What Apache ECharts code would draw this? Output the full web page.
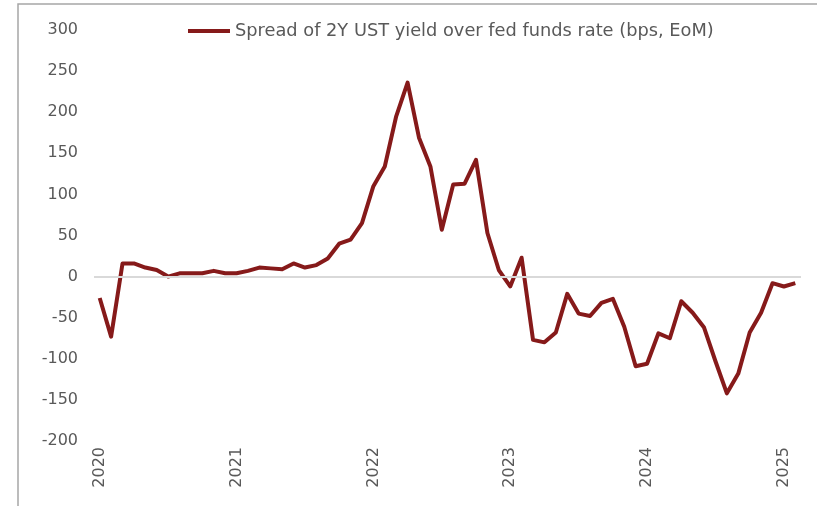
<!DOCTYPE html>
<html>
<head>
<meta charset="utf-8">
<script src="https://cdn.jsdelivr.net/npm/echarts@6/dist/echarts.min.js"></script>
<style>html,body{margin:0;padding:0;background:#fff;}#c{width:817px;height:506px;}</style>
</head>
<body>
<div id="c"></div>
<script>
const years = [2020, 2021, 2022, 2023, 2024, 2025];
const months = [];
years.forEach(y => { for (let m = 1; m <= 12; m++) months.push(y + '-' + (m < 10 ? '0' + m : m)); });
const categories = months.slice(0, 62); // Jan 2020 .. Feb 2025
const spread = [
  -26, -73, 16, 16, 11, 8, 0, 4, 4, 4, 7, 4,
  4, 7, 11, 10, 9, 16, 11, 14, 22, 40, 45, 65,
  110, 134, 195, 236, 169, 134, 57, 112, 113, 142, 53, 8,
  -12, 23, -77, -80, -68, -21, -45, -48, -32, -27, -61, -109,
  -106, -69, -75, -30, -44, -62, -103, -142, -118, -68, -44, -8,
  -12, -8
];
const seriesName = 'Spread of 2Y UST yield over fed funds rate (bps, EoM)';
const yMin = -200, yMax = 300, yStep = 50;

const chart = echarts.init(document.getElementById('c'), null, {renderer: 'canvas'});
const font = 'DejaVu Sans';
chart.setOption({
  animation: false,
  backgroundColor: '#fff',
  graphic: [{
    type: 'rect', silent: true,
    shape: {x: 18, y: 4, width: 820, height: 520},
    style: {fill: 'none', stroke: '#a6a6a6', lineWidth: 1.5}
  }],
  legend: {
    data: [seriesName],
    left: 188, top: 22, padding: 0,
    icon: 'rect', itemWidth: 42, itemHeight: 4, itemGap: 5,
    textStyle: {fontFamily: font, fontSize: 17.8, color: '#595959'}
  },
  grid: {left: 94, right: 16, top: 30, bottom: 65, containLabel: false},
  xAxis: {
    type: 'category', data: categories, boundaryGap: true,
    axisLine: {show: false}, axisTick: {show: false}, splitLine: {show: false},
    axisLabel: {
      rotate: 90, margin: 6, interval: 11,
      fontFamily: font, fontSize: 16, color: '#595959',
      formatter: v => v.slice(0, 4)
    }
  },
  yAxis: {
    type: 'value', min: yMin, max: yMax, interval: yStep,
    axisLine: {show: false}, axisTick: {show: false}, splitLine: {show: false},
    axisLabel: {margin: 16, fontFamily: font, fontSize: 16, color: '#595959'}
  },
  series: [{
    name: seriesName, type: 'line', data: spread,
    symbol: 'none', color: '#861a1a',
    lineStyle: {width: 4, color: '#861a1a', join: 'round'},
    markLine: {
      silent: true, symbol: 'none', label: {show: false},
      lineStyle: {color: '#d9d9d9', width: 2, type: 'solid'},
      data: [{yAxis: 0}]
    },
    z: 3
  }]
});
</script>
</body>
</html>
